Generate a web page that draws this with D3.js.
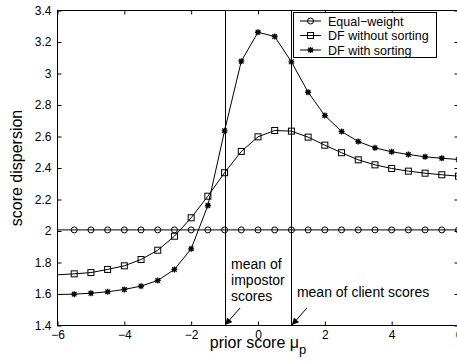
<!DOCTYPE html>
<html>
<head>
<meta charset="utf-8">
<script src="https://cdn.jsdelivr.net/npm/d3@7"></script>
<style>
  html, body { margin: 0; padding: 0; background: #fff; }
  svg { display: block; }
  text { font-family: "Liberation Sans", Arial, Helvetica, sans-serif; fill: #000; }
</style>
</head>
<body>
<svg id="chart" width="457" height="362"></svg>
<script>
// Prior score mean (x) and score dispersion for each fusion scheme
const priorScores = [-6, -5.5, -5, -4.5, -4, -3.5, -3, -2.5, -2, -1.5, -1, -0.5,
                     0, 0.5, 1, 1.5, 2, 2.5, 3, 3.5, 4, 4.5, 5, 5.5, 6];
const equalWeight = [2.007, 2.007, 2.007, 2.007, 2.007, 2.007, 2.007, 2.007, 2.007, 2.007, 2.007, 2.007,
                     2.007, 2.007, 2.007, 2.007, 2.007, 2.007, 2.007, 2.007, 2.007, 2.007, 2.007, 2.007, 2.007];
const dfWithoutSorting = [1.722, 1.728, 1.736, 1.756, 1.779, 1.819, 1.878, 1.967, 2.084, 2.221, 2.370, 2.505,
                          2.598, 2.638, 2.634, 2.596, 2.545, 2.497, 2.452, 2.420, 2.397, 2.380, 2.367, 2.357, 2.348];
const dfWithSorting = [1.597, 1.599, 1.605, 1.614, 1.629, 1.650, 1.686, 1.756, 1.887, 2.162, 2.636, 3.078,
                       3.262, 3.235, 3.074, 2.881, 2.733, 2.632, 2.568, 2.528, 2.503, 2.486, 2.471, 2.462, 2.454];
const seriesNames = ["Equal\u2212weight", "DF without sorting", "DF with sorting"];
const markerTypes = ["circle", "square", "star"];

const xTicks = [-6, -4, -2, 0, 2, 4, 6];
const xTickLabels = ["\u22126", "\u22124", "\u22122", "0", "2", "4", "6"];
const yTicks = [1.4, 1.6, 1.8, 2, 2.2, 2.4, 2.6, 2.8, 3, 3.2, 3.4];
const yTickLabels = ["1.4", "1.6", "1.8", "2", "2.2", "2.4", "2.6", "2.8", "3", "3.2", "3.4"];

const impostorMean = -1;
const clientMean = 1;

const svg = d3.select("#chart");
const plotLeft = 57.5, plotRight = 458.5, plotTop = 10.5, plotBottom = 325.5;

const x = d3.scaleLinear().domain([-6, 6]).range([plotLeft, plotRight]);
const y = d3.scaleLinear().domain([1.4, 3.4]).range([plotBottom, plotTop]);

// Axes with inward ticks on all four sides
const tickLen = 4;
svg.append("g").attr("transform", `translate(0,${plotBottom})`)
  .call(d3.axisBottom(x).tickValues(xTicks).tickSizeInner(-tickLen).tickSizeOuter(0)
        .tickPadding(5).tickFormat((d, i) => xTickLabels[i]))
  .call(g => { g.select(".domain").remove(); g.selectAll("text").attr("font-size", 12).attr("dy", "0.71em"); });
svg.append("g").attr("transform", `translate(0,${plotTop})`)
  .call(d3.axisTop(x).tickValues(xTicks).tickSizeInner(-tickLen).tickSizeOuter(0).tickFormat(""))
  .call(g => g.select(".domain").remove());
svg.append("g").attr("transform", `translate(${plotLeft},0)`)
  .call(d3.axisLeft(y).tickValues(yTicks).tickSizeInner(-tickLen).tickSizeOuter(0)
        .tickPadding(6).tickFormat((d, i) => yTickLabels[i]))
  .call(g => { g.select(".domain").remove(); g.selectAll("text").attr("font-size", 12); });
svg.append("g").attr("transform", `translate(${plotRight},0)`)
  .call(d3.axisRight(y).tickValues(yTicks).tickSizeInner(-tickLen).tickSizeOuter(0).tickFormat(""))
  .call(g => g.select(".domain").remove());
svg.selectAll(".tick line").attr("stroke", "#000");
svg.selectAll(".tick text").attr("fill", "#000").attr("font-family", "Liberation Sans, Arial, sans-serif");

// Plot frame
svg.append("rect").attr("x", plotLeft).attr("y", plotTop)
  .attr("width", plotRight - plotLeft).attr("height", plotBottom - plotTop)
  .attr("fill", "none").attr("stroke", "#000").attr("stroke-width", 1);

// Vertical lines at the impostor and client means
[impostorMean, clientMean].forEach(m => {
  svg.append("line").attr("x1", Math.round(x(m)) + 0.5).attr("x2", Math.round(x(m)) + 0.5)
    .attr("y1", plotTop).attr("y2", plotBottom).attr("stroke", "#000").attr("stroke-width", 1);
});

// Marker drawing
function drawMarker(g, type, cx, cy) {
  if (type === "circle") {
    g.append("circle").attr("cx", cx).attr("cy", cy).attr("r", 3)
      .attr("fill", "none").attr("stroke", "#000").attr("stroke-width", 1);
  } else if (type === "square") {
    g.append("rect").attr("x", cx - 3).attr("y", cy - 3).attr("width", 6).attr("height", 6)
      .attr("fill", "none").attr("stroke", "#000").attr("stroke-width", 1);
  } else {
    const r = 3;
    const p = `M${cx - r},${cy}L${cx + r},${cy}M${cx},${cy - r}L${cx},${cy + r}` +
              `M${cx - r * 0.75},${cy - r * 0.75}L${cx + r * 0.75},${cy + r * 0.75}` +
              `M${cx - r * 0.75},${cy + r * 0.75}L${cx + r * 0.75},${cy - r * 0.75}`;
    g.append("path").attr("d", p).attr("stroke", "#000").attr("stroke-width", 1.3).attr("fill", "none");
  }
}

const allSeries = [equalWeight, dfWithoutSorting, dfWithSorting];
const line = d3.line().x(d => x(d[0])).y(d => y(d[1]));

allSeries.forEach((vals, si) => {
  const pts = priorScores.map((p, i) => [p, vals[i]]);
  const g = svg.append("g");
  g.append("path").attr("d", line(pts)).attr("fill", "none")
    .attr("stroke", "#000").attr("stroke-width", 1);
  // markers start at the second sample
  pts.slice(1).forEach(d => drawMarker(g, markerTypes[si], x(d[0]), y(d[1])));
});

// Legend
const lg = svg.append("g");
lg.append("rect").attr("x", 293.5).attr("y", 12.5).attr("width", 143).attr("height", 45)
  .attr("fill", "#fff").attr("stroke", "#000").attr("stroke-width", 1);
seriesNames.forEach((name, i) => {
  const ry = 21 + i * 14.5;
  lg.append("line").attr("x1", 300).attr("x2", 321).attr("y1", ry).attr("y2", ry)
    .attr("stroke", "#000").attr("stroke-width", 1);
  drawMarker(lg, markerTypes[i], 310.5, ry);
  lg.append("text").attr("x", 328).attr("y", ry + 4.5).attr("font-size", 12.5).text(name);
});

// Annotations for the score means
const ann = svg.append("g").attr("font-size", 14);
const impText = ann.append("text").attr("x", x(impostorMean) + 6.5);
["mean of", "impostor", "scores"].forEach((t, i) => {
  impText.append("tspan").attr("x", x(impostorMean) + 6.5).attr("y", 269 + i * 15.8).text(t);
});
ann.append("text").attr("x", x(clientMean) + 5.5).attr("y", 297).text("mean of client scores");

svg.append("defs").append("marker").attr("id", "arrow")
  .attr("viewBox", "0 0 10 10").attr("refX", 10).attr("refY", 5)
  .attr("markerWidth", 7).attr("markerHeight", 7).attr("markerUnits", "userSpaceOnUse")
  .attr("orient", "auto")
  .append("path").attr("d", "M0,0L10,5L0,10Z").attr("fill", "#000");

[impostorMean, clientMean].forEach(m => {
  const tx = x(m) + 0.5, ty = y(1.4) - 0.5;
  svg.append("line").attr("x1", tx + 15).attr("y1", ty - 17).attr("x2", tx).attr("y2", ty)
    .attr("stroke", "#000").attr("stroke-width", 1).attr("marker-end", "url(#arrow)");
});

// Axis titles
svg.append("text").attr("transform", `translate(22,${(plotTop + plotBottom) / 2}) rotate(-90)`)
  .attr("text-anchor", "middle").attr("font-size", 16).text("score dispersion");
const xt = svg.append("text").attr("x", (plotLeft + plotRight) / 2).attr("y", 348)
  .attr("text-anchor", "middle").attr("font-size", 16);
xt.append("tspan").text("prior score \u03bc");
xt.append("tspan").attr("dy", 6).attr("font-size", 13).text("p");
</script>
</body>
</html>
